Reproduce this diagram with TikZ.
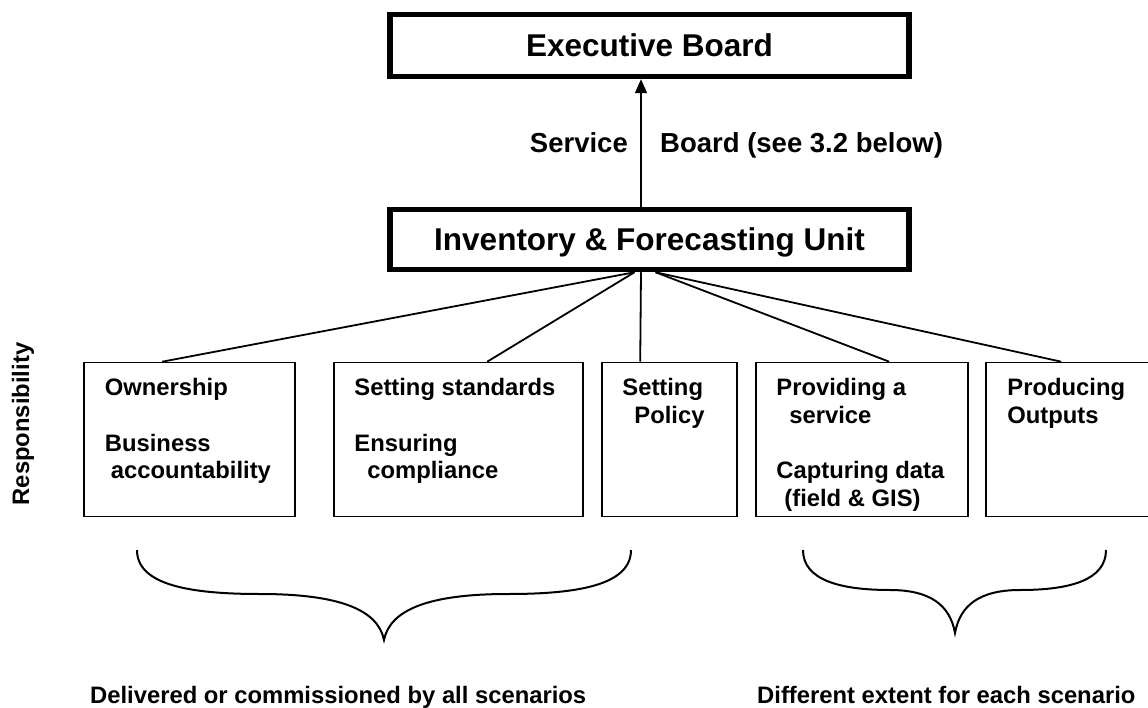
\documentclass[tikz,border=0pt]{standalone}
\usepackage{fontspec}
\setmainfont{Liberation Sans}
\usetikzlibrary{arrows.meta}

\begin{document}
\begin{tikzpicture}[x=1pt,y=-1pt,>={Triangle[width=12pt,length=14pt]}]

  \tikzstyle{board}=[rectangle,draw,line width=5.5pt,inner sep=0pt,minimum width=519pt,
                     text height=22.6pt,text depth=0pt,font=\fontsize{31.5}{36}\selectfont\bfseries]
  \tikzstyle{duty}=[rectangle,draw,line width=1.6pt,inner sep=0pt,minimum height=154pt]
  \tikzstyle{duty text}=[anchor=north west,inner sep=0pt,align=left,
                         font=\fontsize{23.8}{27.7}\selectfont\bfseries]
  \tikzstyle{note}=[inner sep=0pt,font=\fontsize{23.8}{27.7}\selectfont\bfseries]

  \clip (0,0) rectangle (1148,708);

  \node[board,minimum height=62pt] (EB)  at (649.5,45.5)  {Executive Board};
  \node[board,minimum height=60pt] (IFU) at (649.5,239.5) {Inventory \& Forecasting Unit};

  \node[duty,minimum width=211pt] (OWN) at (189.5,439.5) {};
  \node[duty,minimum width=249pt] (STD) at (458.5,439.5) {};
  \node[duty,minimum width=135pt] (POL) at (669.5,439.5) {};
  \node[duty,minimum width=212pt] (SVC) at (862,439.5)   {};
  \node[duty,minimum width=170pt] (OUT) at (1071,439.5)  {};

  \node[duty text] (OWNt) at ([xshift=21.5pt,yshift=-16.5pt]OWN.north west)
       {Ownership\\[27.7pt]Business\\\hspace*{6pt}accountability};
  \node[duty text] (STDt) at ([xshift=21pt,yshift=-16.5pt]STD.north west)
       {Setting standards\\[27.7pt]Ensuring\\\hspace*{13pt}compliance};
  \node[duty text] (POLt) at ([xshift=21pt,yshift=-16.5pt]POL.north west)
       {Setting\\\hspace*{12pt}Policy};
  \node[duty text] (SVCt) at ([xshift=21pt,yshift=-16.5pt]SVC.north west)
       {Providing a\\\hspace*{13pt}service\\[27.7pt]Capturing data\\\hspace*{8pt}(field \& GIS)};
  \node[duty text] (OUTt) at ([xshift=22pt,yshift=-16.5pt]OUT.north west)
       {Producing\\Outputs};

  \node[note,rotate=90] (resp) at (23,424) {Responsibility};
  \node[note,anchor=base east,font=\fontsize{27.5}{32}\selectfont\bfseries] (svcL) at (628,153) {Service};
  \node[note,anchor=base west,font=\fontsize{27.5}{32}\selectfont\bfseries] (svcR) at (660,153) {Board (see 3.2 below)};
  \node[note,anchor=base west] (common) at (90,703)  {Delivered or commissioned by all scenarios};
  \node[note,anchor=base west] (varies) at (757,703) {Different extent for each scenario};

  \coordinate (stem) at ([xshift=-8.5pt]IFU.north);
  \coordinate (hubL) at ([xshift=-15pt]IFU.south);
  \coordinate (hubM) at ([xshift=-8.5pt]IFU.south);
  \coordinate (hubR) at ([xshift=6pt]IFU.south);

  \draw[->,line width=1.8pt] (stem) -- (stem |- EB.south);

  \path[line width=1.8pt]
  (hubL) edge ([xshift=79pt]OWN.north west)
  (hubL) edge ([xshift=154pt]STD.north west)
  (hubM) edge ([xshift=39pt]POL.north west)
  (hubR) edge ([xshift=134pt]SVC.north west)
  (hubR) edge ([xshift=76pt]OUT.north west)
  ;

  % braces under the boxes
  \draw[line width=2pt] (137,550) .. controls (137,585) and (190,594) .. (260,594)
        .. controls (340,594) and (378,610) .. (384,640)
        .. controls (390,610) and (428,594) .. (508,594)
        .. controls (578,594) and (631,585) .. (631,550);
  \draw[line width=2pt] (803,550) .. controls (803,580) and (840,590) .. (890,590)
        .. controls (930,590) and (950,605) .. (955,633)
        .. controls (960,605) and (980,590) .. (1020,590)
        .. controls (1070,590) and (1106,580) .. (1106,550);
\end{tikzpicture}
\end{document}
